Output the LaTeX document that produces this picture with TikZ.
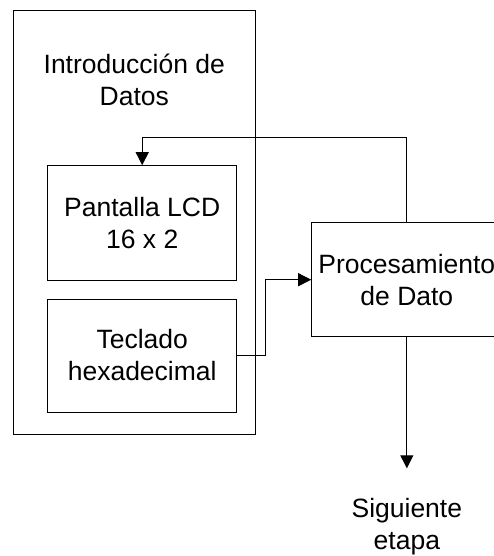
\documentclass[tikz,border=0pt]{standalone}
\usepackage{fontspec}
\setmainfont{Liberation Sans}
\usetikzlibrary{arrows.meta}
\begin{document}
\begin{tikzpicture}[x=1pt,y=-1pt,
  txt/.style={align=center, inner sep=0pt, font=\fontsize{26.5}{32}\selectfont},
  box/.style={draw, line width=1pt, txt},
  conn/.style={line width=1pt},
  arr/.style={conn, -{Triangle[width=13pt,length=13pt]}}]
\useasboundingbox (0,0) rectangle (494,556);
\clip (0,0) rectangle (494,556);
\node[box, minimum width=242.5pt, minimum height=423.7pt] (outer) at (134.25,222.15) {};
\node[txt] (title) at (134.25,79.5) {Introducción de\\Datos};
\node[box, minimum width=189pt, minimum height=114.3pt] (lcd) at (142.2,222.85) {Pantalla LCD\\16 x 2};
\node[box, minimum width=189pt, minimum height=113pt] (tec) at (142.2,355.5) {Teclado\\hexadecimal};
\node[box, minimum width=190.3pt, minimum height=114pt] (proc) at (406.85,279.7) {Procesamiento\\de Dato};
\node[txt] (nxt) at (406.85,527) {Siguiente\\etapa};
\coordinate (fb) at (406.85,137.3);
\coordinate (k) at (265.5,300);
\coordinate (end) at (406.85,468.3);
\draw[arr] (proc.north) -- (fb) -| (lcd.north);
\draw[arr] (tec.east) -- (tec.east -| k) -- (k |- proc.west) -- (proc.west);
\draw[arr] (proc.south) -- (end);
\end{tikzpicture}
\end{document}
